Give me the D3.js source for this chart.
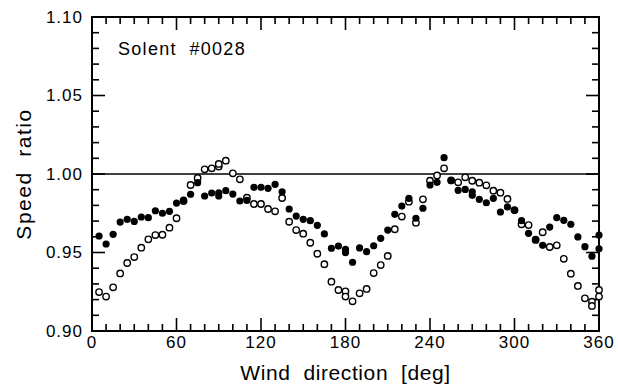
<!DOCTYPE html>
<html lang="en">
<head>
<meta charset="UTF-8">
<title>Speed ratio vs wind direction</title>
<style>
  body { margin: 0; background: #fff; }
  text { font-family: "Liberation Sans", Arial, sans-serif; fill: #000; }
</style>
</head>
<body>
<svg id="chart"></svg>
<script src="https://d3js.org/d3.v7.min.js"></script>
<script>
// filled circles
const dirFilled = [5, 10, 15, 20, 25, 30, 35, 40, 45, 50, 55, 60, 65, 70, 75, 80, 85, 90, 90, 95,
  100, 105, 110, 115, 120, 125, 130, 135, 140, 145, 150, 155, 160, 165, 170, 175, 180, 180, 185,
  190, 195, 200, 205, 210, 215, 220, 225, 230, 235, 240, 245, 250, 255, 260, 265, 270, 270, 275,
  280, 285, 290, 295, 300, 305, 310, 315, 320, 325, 330, 335, 340, 345, 350, 355, 360, 360];
const filled = [0.9605, 0.9554, 0.9616, 0.9694, 0.9711, 0.9698, 0.9726, 0.9722, 0.9766, 0.9750,
  0.9762, 0.9815, 0.9834, 0.9871, 0.9945, 0.9860, 0.9879, 0.9880, 0.9860, 0.9894,
  0.9872, 0.9828, 0.9832, 0.9915, 0.9915, 0.9909, 0.9934, 0.9887, 0.9777, 0.9732,
  0.9711, 0.9703, 0.9673, 0.9618, 0.9527, 0.9541, 0.9520, 0.9499, 0.9438,
  0.9529, 0.9505, 0.9543, 0.9590, 0.9643, 0.9743, 0.9796, 0.9845, 0.9718, 0.9782,
  0.9930, 0.9947, 1.0104, 0.9957, 0.9896, 0.9902, 0.9887, 0.9864, 0.9839,
  0.9817, 0.9845, 0.9758, 0.9790, 0.9769, 0.9703, 0.9622, 0.9584, 0.9546, 0.9662,
  0.9722, 0.9705, 0.9680, 0.9599, 0.9537, 0.9476, 0.9611, 0.9524];

// open circles
const dirOpen = [5, 10, 15, 20, 25, 30, 35, 40, 45, 50, 55, 60, 65, 70, 75, 80, 85, 90, 90, 95,
  100, 105, 110, 115, 120, 125, 130, 135, 140, 145, 150, 155, 160, 165, 170, 175, 180, 180, 185,
  190, 195, 200, 205, 210, 215, 220, 225, 230, 235, 240, 245, 250, 255, 260, 265, 270, 275,
  280, 285, 290, 295, 300, 305, 310, 315, 320, 325, 330, 335, 340, 345, 350, 355, 355, 360, 360];
const open = [0.9248, 0.9219, 0.9278, 0.9367, 0.9433, 0.9471, 0.9531, 0.9584, 0.9611, 0.9613,
  0.9658, 0.9718, 0.9828, 0.9930, 0.9975, 1.0030, 1.0036, 1.0047, 1.0064, 1.0085,
  1.0004, 0.9966, 0.9849, 0.9809, 0.9809, 0.9777, 0.9762, 0.9847, 0.9696, 0.9643,
  0.9620, 0.9562, 0.9492, 0.9425, 0.9314, 0.9261, 0.9253, 0.9219, 0.9189,
  0.9240, 0.9268, 0.9369, 0.9420, 0.9478, 0.9648, 0.9729, 0.9824, 0.9690, 0.9839,
  0.9957, 0.9991, 1.0036, 0.9960, 0.9947, 0.9979, 0.9957, 0.9945,
  0.9928, 0.9894, 0.9881, 0.9841, 0.9770, 0.9680, 0.9675, 0.9580, 0.9629, 0.9535,
  0.9546, 0.9460, 0.9365, 0.9287, 0.9208, 0.9187, 0.9160, 0.9261, 0.9219];

const xTicks = [0, 60, 120, 180, 240, 300, 360];
const yTicks = [0.90, 0.95, 1.00, 1.05, 1.10];
const refValue = 1.00;
const label = "Solent  #0028";

const width = 618, height = 390;
const marginLeft = 92, marginRight = 19, marginTop = 17, marginBottom = 59;

const x = d3.scaleLinear([0, 360], [marginLeft, width - marginRight]);
const y = d3.scaleLinear([0.90, 1.10], [height - marginBottom, marginTop]);

const svg = d3.select("#chart")
  .attr("width", width)
  .attr("height", height)
  .attr("viewBox", [0, 0, width, height]);

const minorX = d3.range(0, 361, 10);
const minorY = d3.range(0, 21).map(i => 0.90 + i * 0.01);

// ticks, all pointing inward
function tickLen(v, majors) {
  return majors.some(m => Math.abs(m - v) < 1e-6) ? 13 : 7;
}
const ticks = svg.append("g").attr("stroke", "#000").attr("stroke-width", 1.6);
ticks.selectAll(".xb").data(minorX).join("line")
  .attr("x1", d => x(d)).attr("x2", d => x(d))
  .attr("y1", y(0.90)).attr("y2", d => y(0.90) - tickLen(d, xTicks));
ticks.selectAll(".xt").data(minorX).join("line")
  .attr("x1", d => x(d)).attr("x2", d => x(d))
  .attr("y1", y(1.10)).attr("y2", d => y(1.10) + tickLen(d, xTicks));
ticks.selectAll(".yl").data(minorY).join("line")
  .attr("y1", d => y(d)).attr("y2", d => y(d))
  .attr("x1", x(0)).attr("x2", d => x(0) + tickLen(d, yTicks));
ticks.selectAll(".yr").data(minorY).join("line")
  .attr("y1", d => y(d)).attr("y2", d => y(d))
  .attr("x1", x(360)).attr("x2", d => x(360) - tickLen(d, yTicks));

// frame
svg.append("rect")
  .attr("x", x(0)).attr("y", y(1.10))
  .attr("width", x(360) - x(0)).attr("height", y(0.90) - y(1.10))
  .attr("fill", "none").attr("stroke", "#000").attr("stroke-width", 2);

// reference line
svg.append("line")
  .attr("x1", x(0)).attr("x2", x(360))
  .attr("y1", y(refValue)).attr("y2", y(refValue))
  .attr("stroke", "#000").attr("stroke-width", 1.6);

// tick labels
svg.append("g").attr("font-size", 17).attr("letter-spacing", 1).attr("text-anchor", "end")
  .selectAll("text").data(yTicks).join("text")
  .attr("x", x(0) - 9).attr("y", d => y(d)).attr("dy", "0.35em")
  .text(d => d.toFixed(2));
svg.append("g").attr("font-size", 17).attr("letter-spacing", 1).attr("text-anchor", "middle")
  .selectAll("text").data(xTicks).join("text")
  .attr("x", d => x(d)).attr("y", y(0.90) + 17)
  .text(d => d);

// axis titles
svg.append("text")
  .attr("x", (x(0) + x(360)) / 2).attr("y", 380)
  .attr("text-anchor", "middle").attr("font-size", 21).attr("letter-spacing", 0.6)
  .attr("xml:space", "preserve")
  .text("Wind  direction  [deg]");
svg.append("text")
  .attr("transform", `translate(31,${(y(0.90) + y(1.10)) / 2}) rotate(-90)`)
  .attr("text-anchor", "middle").attr("font-size", 21).attr("letter-spacing", 1.5)
  .attr("xml:space", "preserve")
  .text("Speed  ratio");

svg.append("text")
  .attr("x", 118).attr("y", 55)
  .attr("font-size", 18).attr("letter-spacing", 1.3)
  .attr("xml:space", "preserve")
  .text(label);

// points
svg.append("g").selectAll("circle").data(d3.range(dirOpen.length)).join("circle")
  .attr("cx", i => x(dirOpen[i])).attr("cy", i => y(open[i]))
  .attr("r", 3.2).attr("fill", "#fff").attr("stroke", "#000").attr("stroke-width", 1.4);
svg.append("g").selectAll("circle").data(d3.range(dirFilled.length)).join("circle")
  .attr("cx", i => x(dirFilled[i])).attr("cy", i => y(filled[i]))
  .attr("r", 3.6).attr("fill", "#000");
</script>
</body>
</html>
